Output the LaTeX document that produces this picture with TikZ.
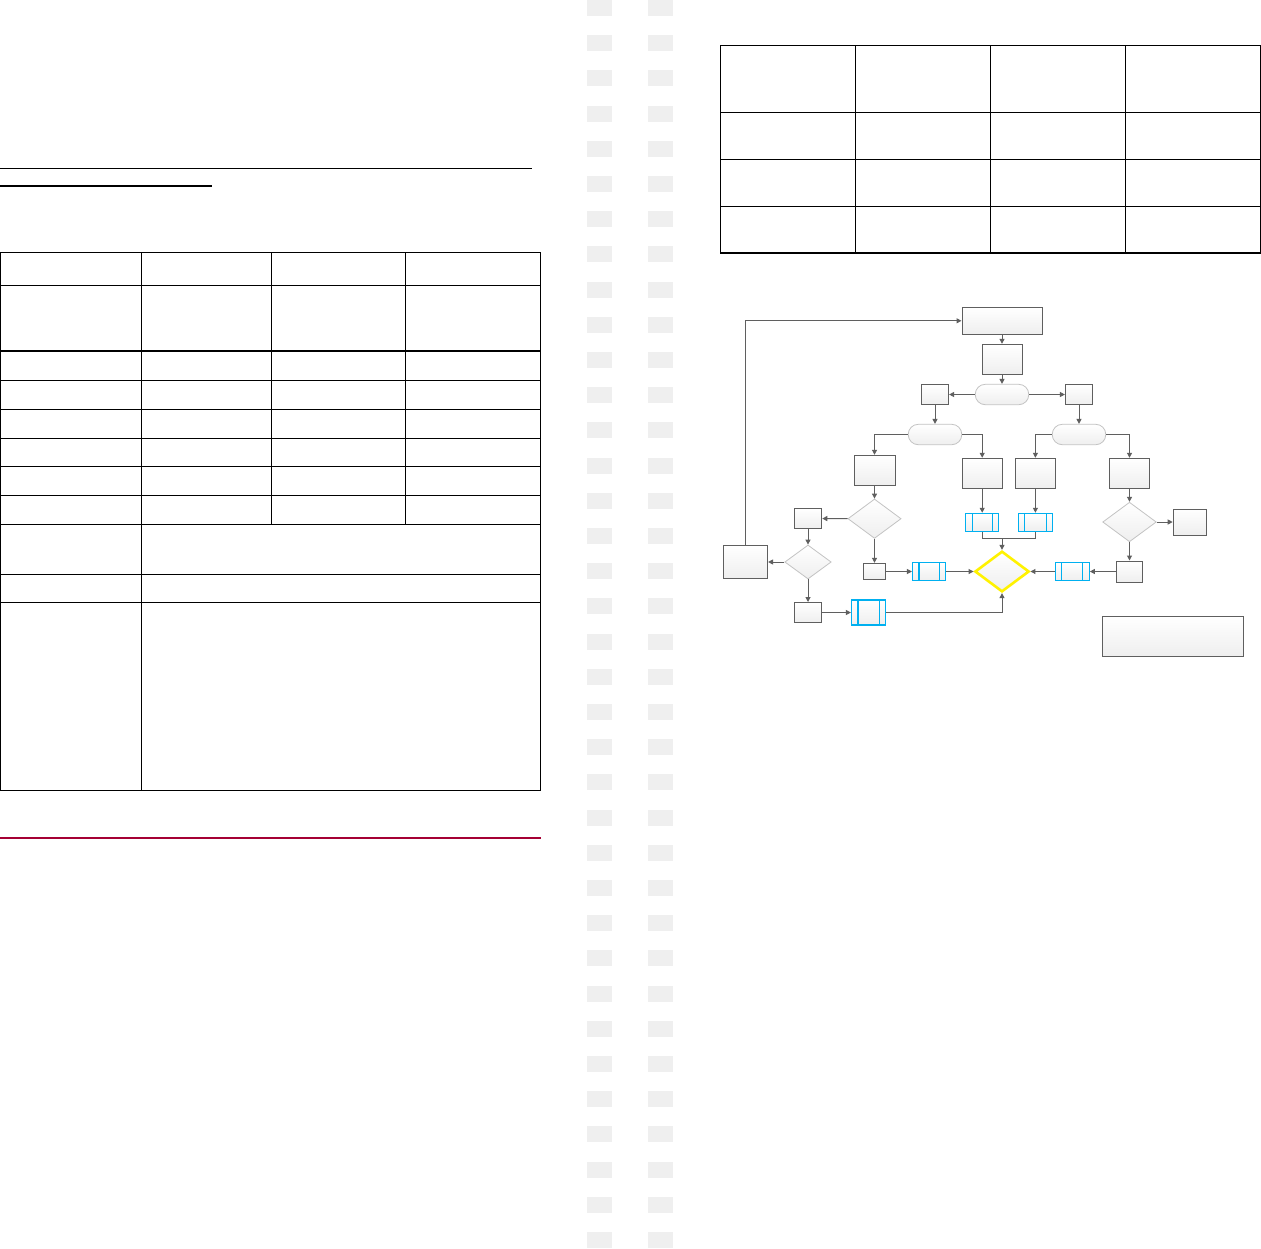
\documentclass[tikz,border=0pt]{standalone}
\usepackage{xcolor}
\usepackage{tikz}
\usetikzlibrary{positioning,shapes.geometric,arrows.meta}

\definecolor{flowgray}{HTML}{5F5F5F}
\definecolor{lightrim}{HTML}{C3C3C3}
\definecolor{subblue}{HTML}{00B0F0}
\definecolor{padgray}{HTML}{EFEFEF}
\definecolor{rulered}{HTML}{A50034}

\begin{document}
\begin{tikzpicture}[x=1pt,y=-1pt,
  sz/.style 2 args={minimum width=#1pt,minimum height=#2pt},
  shade/.style={top color=white,bottom color=gray!13},
  box/.style={draw=flowgray,line width=1pt,shade,inner sep=0pt},
  term/.style={draw=lightrim,line width=0.8pt,shade,rounded corners=10pt,inner sep=0pt,sz={53.5}{20.4}},
  decision/.style={diamond,draw=lightrim,line width=0.8pt,shade,inner sep=0pt},
  merge/.style={diamond,draw=yellow,line width=2.6pt,shade,inner sep=0pt},
  subproc/.style={draw=subblue,line width=1.1pt,shade,inner sep=0pt,
    path picture={
      \draw[subblue,line width=1.1pt] ([xshift=6.5pt]path picture bounding box.north west) -- ([xshift=6.5pt]path picture bounding box.south west);
      \draw[subblue,line width=1.1pt] ([xshift=-6.5pt]path picture bounding box.north east) -- ([xshift=-6.5pt]path picture bounding box.south east);}},
  link/.style={draw=flowgray,line width=1pt},
  flow/.style={link,-{Triangle[length=5pt,width=5pt]}},
  grid/.style={line width=1.3pt,black}]

\path[use as bounding box,fill=white] (0,0) rectangle (1261,1248);

\foreach \r in {0,...,35} {
  \fill[padgray] (587,\r*35.2) rectangle ++(25,16);
  \fill[padgray] (648,\r*35.2) rectangle ++(25,16);
}

\draw[line width=1.2pt] (0,168.3) -- (532,168.3);
\draw[line width=1.2pt] (0,186) -- (212,186);

\draw[grid] (0.7,252.2) rectangle (540.7,790.2);
\foreach \y in {285.3,350.9,380.4,409.4,438.4,466.5,495.5,524.6,574.6,602.2}
  \draw[grid] (0.7,\y) -- (540.7,\y);
\draw[grid] (141.4,252.2) -- (141.4,790.2);
\foreach \x in {271.4,405.4}
  \draw[grid] (\x,252.2) -- (\x,524.6);

\draw[line width=1.1pt,rulered] (0,838) -- (540.7,838);

\draw[grid] (720.2,45.3) rectangle (1260.2,253);
\foreach \y in {112.3,159.3,206.3}
  \draw[grid] (720.2,\y) -- (1260.2,\y);
\foreach \x in {855.5,990.4,1125.3}
  \draw[grid] (\x,45.3) -- (\x,253);

\node[box,sz={80}{27}] (start) at (1002,320.8) {};
\node[box,sz={40}{30}] (read) at (1002,359.3) {};
\node[term] (mode) at (1002,394.5) {};
\node[box,sz={27.2}{20.4}] (left) at (935,394.5) {};
\node[box,sz={27.2}{20.4}] (right) at (1079,394.5) {};
\node[term] (lsplit) at (935,434.5) {};
\node[term] (rsplit) at (1079,434.5) {};
\node[box,sz={41}{30}] (la) at (874.5,470.3) {};
\node[box,sz={40}{30.4}] (lb) at (982.2,473.5) {};
\node[box,sz={40}{30.4}] (rc) at (1035.4,473.5) {};
\node[box,sz={40}{30.4}] (rd) at (1129.5,473.5) {};
\node[decision,sz={53.2}{39.4}] (qa) at (874.5,518.7) {};
\node[decision,sz={53.6}{39.6}] (qd) at (1129.5,522) {};
\node[box,sz={27.5}{20.4}] (na) at (808,518.5) {};
\node[decision,sz={46.4}{34}] (qn) at (808,562) {};
\node[box,sz={44.3}{33}] (back) at (745.4,562) {};
\node[box,sz={27.5}{20}] (nb) at (808,612.5) {};
\node[box,sz={21.4}{16.4}] (ya) at (874.5,571.5) {};
\node[box,sz={33.2}{26}] (nd) at (1189.8,522) {};
\node[box,sz={26.8}{21}] (yd) at (1129.5,571.5) {};
\node[box,sz={140.7}{40}] (note) at (1172.9,636.3) {};
\node[merge,sz={54.3}{40.7}] (join) at (1002,571.5) {};
\node[subproc,sz={33.2}{18}] (pb) at (982.2,522.3) {};
\node[subproc,sz={34.3}{18}] (pc) at (1035.4,522.3) {};
\node[subproc,sz={33.2}{18}] (pa) at (929.1,571.5) {};
\node[subproc,sz={33.9}{18}] (pd) at (1072.3,571.5) {};
\node[subproc,sz={34.3}{25}] (pn) at (868.6,612.5) {};
\coordinate (mid) at (1002,538.3);

\draw[flow] (back.north) |- (start.west);
\draw[flow] (start) -- (read);
\draw[flow] (read) -- (mode);
\draw[flow] (mode) -- (left);
\draw[flow] (mode) -- (right);
\draw[flow] (left) -- (lsplit);
\draw[flow] (right) -- (rsplit);
\draw[flow] (lsplit.west) -| (la.north);
\draw[flow] (lsplit.east) -| (lb.north);
\draw[flow] (rsplit.west) -| (rc.north);
\draw[flow] (rsplit.east) -| (rd.north);
\draw[flow] (la) -- (qa);
\draw[flow] (qa) -- (na);
\draw[flow] (qa) -- (ya);
\draw[flow] (na) -- (qn);
\draw[flow] (qn) -- (back);
\draw[flow] (qn) -- (nb);
\draw[flow] (nb) -- (pn);
\draw[flow] (pn.east) -| (join.south);
\draw[flow] (ya) -- (pa);
\draw[flow] (pa) -- (join);
\draw[flow] (lb) -- (pb);
\draw[flow] (rc) -- (pc);
\draw[link] (pb.south) |- (mid) -| (pc.south);
\draw[flow] (mid) -- (join.north);
\draw[flow] (rd) -- (qd);
\draw[flow] (qd) -- (nd);
\draw[flow] (qd) -- (yd);
\draw[flow] (yd) -- (pd);
\draw[flow] (pd) -- (join);
\end{tikzpicture}
\end{document}
